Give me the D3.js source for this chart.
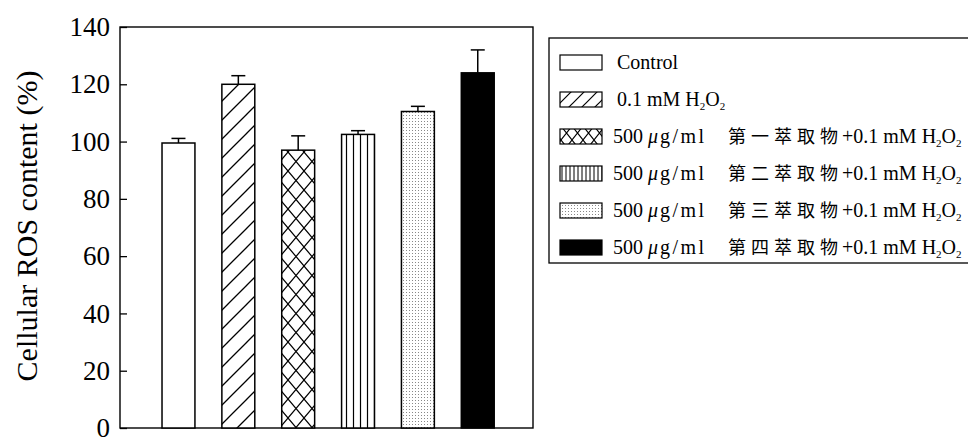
<!DOCTYPE html>
<html><head><meta charset="utf-8">
<script src="https://cdn.jsdelivr.net/npm/d3@7"></script>
<style>html,body{margin:0;padding:0;background:#fff;}svg{display:block;}</style>
</head><body>
<svg id="chart" width="968" height="443"></svg>
<script>
const categories = ["Control", "H2O2", "F1", "F2", "F3", "F4"];
const values = [99.5, 120, 97, 102.5, 110.5, 124];
const errors = [1.6, 3, 5, 1.3, 1.8, 8];
const yTicks = [0, 20, 40, 60, 80, 100, 120, 140];
const patterns = ["none", "hatch", "cross", "vlines", "dots", "solid"];
const fractionNames = ["第一萃取物", "第二萃取物", "第三萃取物", "第四萃取物"];
const yLabel = "Cellular ROS content (%)";

const svg = d3.select("#chart");
const L = 120, R = 533, T = 27, B = 428;
const serif = "'Liberation Serif','Times New Roman',serif";

const defs = svg.append("defs");
function mk(id, w, h, draw) {
  const p = defs.append("pattern").attr("id", id).attr("patternUnits", "userSpaceOnUse")
    .attr("width", w).attr("height", h);
  p.append("rect").attr("width", w).attr("height", h).attr("fill", "#fff");
  draw(p);
}
mk("hatch", 19, 19, p => {
  p.append("path").attr("d", "M0,19 L19,0 M-5,5 L5,-5 M14,24 L24,14").attr("stroke", "#000").attr("stroke-width", 1.3);
});
mk("hatchL", 13, 13, p => {
  p.append("path").attr("d", "M0,13 L13,0 M-3,3 L3,-3 M10,16 L16,10").attr("stroke", "#000").attr("stroke-width", 1.2);
});
mk("cross", 16, 19, p => {
  p.append("path").attr("d", "M0,0 L16,19 M16,0 L0,19").attr("stroke", "#000").attr("stroke-width", 1.2);
});
mk("crossL", 11, 14, p => {
  p.append("path").attr("d", "M0,0 L11,14 M11,0 L0,14").attr("stroke", "#000").attr("stroke-width", 1.1);
});
mk("vlines", 7, 10, p => {
  p.append("path").attr("d", "M3.5,0 L3.5,10").attr("stroke", "#000").attr("stroke-width", 1.2);
});
mk("vlinesL", 4, 10, p => {
  p.append("path").attr("d", "M2,0 L2,10").attr("stroke", "#000").attr("stroke-width", 1);
});
mk("dots", 3, 3, p => {
  p.append("rect").attr("x", 1).attr("y", 1).attr("width", 1).attr("height", 1).attr("fill", "#888");
});
function fillFor(pt, legend) {
  if (pt === "none") return "#fff";
  if (pt === "solid") return "#000";
  if (pt === "dots") return "url(#dots)";
  return `url(#${pt}${legend ? "L" : ""})`;
}

const x = d3.scaleBand().domain(categories).range([L, R]).paddingInner(0.45).paddingOuter(0.675).align(0.52);
const y = d3.scaleLinear().domain([0, 140]).range([B, T]);

// frame
svg.append("rect").attr("x", L).attr("y", T).attr("width", R - L).attr("height", B - T)
  .attr("fill", "none").attr("stroke", "#000").attr("stroke-width", 1.4);

// axis
const ax = svg.append("g").attr("transform", `translate(${L},0)`)
  .call(d3.axisLeft(y).tickValues(yTicks).tickSizeInner(-7).tickSizeOuter(0).tickPadding(10));
ax.select(".domain").remove();
ax.selectAll(".tick line").attr("stroke", "#000").attr("stroke-width", 1.3);
ax.selectAll(".tick text").attr("font-family", serif).attr("font-size", 27).attr("fill", "#000");

// y label
svg.append("text").attr("transform", `translate(37,226) rotate(-90)`)
  .attr("text-anchor", "middle").attr("font-family", serif).attr("font-size", 30).attr("fill", "#000")
  .text(yLabel);

// bars
const bars = svg.append("g");
categories.forEach((c, i) => {
  bars.append("rect").attr("x", x(c)).attr("y", y(values[i])).attr("width", x.bandwidth())
    .attr("height", y(0) - y(values[i])).attr("fill", fillFor(patterns[i], false))
    .attr("stroke", "#000").attr("stroke-width", 1.5);
  const cx = x(c) + x.bandwidth() / 2;
  bars.append("line").attr("x1", cx).attr("x2", cx).attr("y1", y(values[i])).attr("y2", y(values[i] + errors[i]))
    .attr("stroke", "#000").attr("stroke-width", 1.5);
  bars.append("line").attr("x1", cx - 7).attr("x2", cx + 7).attr("y1", y(values[i] + errors[i])).attr("y2", y(values[i] + errors[i]))
    .attr("stroke", "#000").attr("stroke-width", 1.5);
});

// legend
const lg = svg.append("g");
lg.append("rect").attr("x", 549).attr("y", 38).attr("width", 440).attr("height", 225)
  .attr("fill", "#fff").attr("stroke", "#000").attr("stroke-width", 1.3);
const rowY = [62, 99, 136, 173, 210, 247];
function h2o2(t) {
  t.append("tspan").text("H");
  t.append("tspan").attr("font-size", 11).attr("dy", 4).text("2");
  t.append("tspan").attr("dy", -4).text("O");
  t.append("tspan").attr("font-size", 11).attr("dy", 4).text("2");
}
categories.forEach((c, i) => {
  const cy = rowY[i];
  lg.append("rect").attr("x", 560).attr("y", cy - 7).attr("width", 42).attr("height", 15)
    .attr("fill", fillFor(patterns[i], true)).attr("stroke", "#000").attr("stroke-width", 1.2);
  const t = lg.append("text").attr("x", 617).attr("y", cy + 7).attr("font-family", serif)
    .attr("font-size", 20).attr("fill", "#000");
  if (i === 0) {
    t.text("Control");
  } else if (i === 1) {
    t.append("tspan").text("0.1 mM ");
    h2o2(t);
  } else {
    t.append("tspan").attr("x", 613).text("500");
    t.append("tspan").attr("x", 648).attr("font-style", "italic").text("μ");
    t.append("tspan").attr("x", 660).attr("letter-spacing", 2.5).text("g/ml");
    t.append("tspan").attr("x", 728).attr("font-family", "'Noto Sans CJK TC','Noto Sans CJK SC',serif")
      .attr("font-size", 18).attr("letter-spacing", 5).text(fractionNames[i - 2]);
    t.append("tspan").attr("x", 842).text("+0.1 mM ");
    h2o2(t);
  }
});
</script>
</body></html>
